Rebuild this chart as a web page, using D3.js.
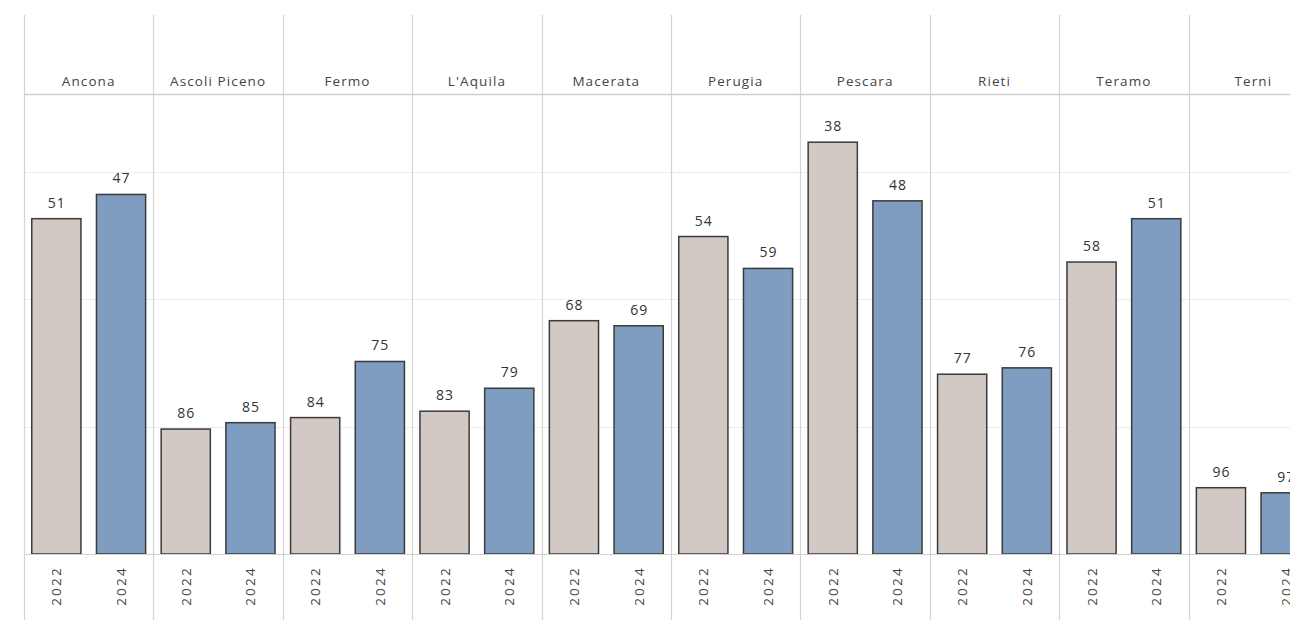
<!DOCTYPE html>
<html><head><meta charset="utf-8">
<script src="https://cdn.jsdelivr.net/npm/d3@7"></script>
<style>body{margin:0;background:#fff}svg{display:block}text{font-family:"Open Sans",Lato,sans-serif}</style>
</head><body><div id="c"></div>
<script>
const provinces = ["Ancona","Ascoli Piceno","Fermo","L'Aquila","Macerata","Perugia","Pescara","Rieti","Teramo","Terni"];
const years = ["2022","2024"];
const values2022 = [26.3, 9.8, 10.7, 11.2, 18.3, 24.9, 32.3, 14.1, 22.9, 5.2];
const values2024 = [28.2, 10.3, 15.1, 13.0, 17.9, 22.4, 27.7, 14.6, 26.3, 4.8];
// rank labels shown above bars
const labels2022 = [51, 86, 84, 83, 68, 54, 38, 77, 58, 96];
const labels2024 = [47, 85, 75, 79, 69, 59, 48, 76, 51, 97];
const gridTicks = [0, 10, 20, 30];

const W = 1290, H = 624;
const left = 24, panelW = 129.4, headerTop = 15, headerBottom = 94, base = 554;
const colors = {"2022": "#d2c9c5", "2024": "#7e9dc0"};

const svg = d3.select("#c").append("svg").attr("width", W).attr("height", H);

const fx = d3.scaleBand().domain(provinces).range([left, left + panelW * provinces.length]).padding(0);
const xb = d3.scaleBand().domain(years).range([0, panelW]).paddingInner(0.24).paddingOuter(0.12);
const y = d3.scaleLinear().domain([0, 36.08]).range([base, headerBottom]);

// gridlines
svg.append("g").selectAll("line").data(gridTicks.slice(1)).join("line")
  .attr("x1", left).attr("x2", W).attr("y1", d => Math.round(y(d)) + 0.5).attr("y2", d => Math.round(y(d)) + 0.5)
  .attr("stroke", "#ececec").attr("stroke-width", 1);

// vertical separators
svg.append("g").selectAll("line").data(provinces).join("line")
  .attr("x1", d => Math.round(fx(d)) + 0.5).attr("x2", d => Math.round(fx(d)) + 0.5)
  .attr("y1", headerTop).attr("y2", 620)
  .attr("stroke", "#d4d4d4").attr("stroke-width", 1.2);

// header bottom line
svg.append("line").attr("x1", left).attr("x2", W).attr("y1", headerBottom + 0.5).attr("y2", headerBottom + 0.5)
  .attr("stroke", "#cfcfcf").attr("stroke-width", 1.5);

const data = [];
provinces.forEach((p, i) => {
  data.push({p, yr: "2022", v: values2022[i], lab: labels2022[i]});
  data.push({p, yr: "2024", v: values2024[i], lab: labels2024[i]});
});

// headers
svg.append("g").selectAll("text").data(provinces).join("text")
  .attr("x", d => fx(d) + panelW / 2).attr("y", 86)
  .attr("text-anchor", "middle").attr("font-size", 13.5).attr("letter-spacing", 1.1).attr("fill", "#444")
  .text(d => d);

// bars
svg.append("g").selectAll("rect").data(data).join("rect")
  .attr("x", d => fx(d.p) + xb(d.yr))
  .attr("width", xb.bandwidth())
  .attr("y", d => y(d.v))
  .attr("height", d => base - y(d.v))
  .attr("fill", d => colors[d.yr])
  .attr("stroke", "#3b3b3b").attr("stroke-width", 1.5);

svg.append("line").attr("x1", left).attr("x2", W).attr("y1", base + 0.5).attr("y2", base + 0.5)
  .attr("stroke", "#d0d0d0").attr("stroke-width", 1.2);

// value labels
svg.append("g").selectAll("text").data(data).join("text")
  .attr("x", d => fx(d.p) + xb(d.yr) + xb.bandwidth() / 2 + 0.5)
  .attr("y", d => y(d.v) - 11)
  .attr("text-anchor", "middle").attr("font-size", 14).attr("letter-spacing", 1).attr("fill", "#333")
  .text(d => d.lab);

// year labels (rotated)
svg.append("g").selectAll("text").data(data).join("text")
  .attr("transform", d => `translate(${fx(d.p) + xb(d.yr) + xb.bandwidth() / 2 + 5},586) rotate(-90)`)
  .attr("text-anchor", "middle").attr("font-size", 13.5).attr("letter-spacing", 2.2).attr("fill", "#444")
  .text(d => d.yr);
</script></body></html>
